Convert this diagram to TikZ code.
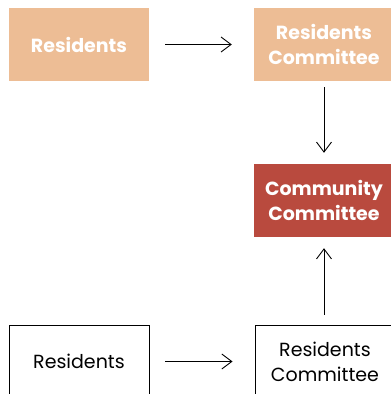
\documentclass[tikz,border=0pt]{standalone}
\usepackage{fontspec}
\setmainfont{Poppins}
\usepackage{tikz}
\usetikzlibrary{arrows.meta,positioning}

\definecolor{peach}{HTML}{EDBD95}
\definecolor{brick}{HTML}{B94A3E}

\begin{document}
\begin{tikzpicture}[
    x=1pt, y=-1pt,
    box/.style={rectangle, minimum width=140pt, minimum height=73pt, align=center, inner sep=0pt,
        font=\fontsize{19}{25}\selectfont},
    soft/.style={box, fill=peach, text=white, font=\fontsize{19}{25}\selectfont\bfseries},
    hot/.style={box, fill=brick, text=white, font=\fontsize{19}{25}\selectfont\bfseries},
    plain/.style={box, draw=black, line width=0.9pt},
    arr/.style={-{Straight Barb[length=10pt,width=15pt]}, line width=0.9pt}
]
    \useasboundingbox (0,0) rectangle (391,394);
    \clip (0,0) rectangle (391,394);

    % upper row
    \node[soft] (residentsA) at (79,44.5) {Residents};
    \node[soft] (committeeA) at (324,44.5) {Residents\\Committee};
    \node[hot] (community) at (324,200.5) {Community\\Committee};

    % lower row
    \node[plain] (residentsB) at (79,361.5) {Residents};
    \node[plain] (committeeB) at (325,361.5) {Residents\\Committee};

    \draw[arr, shorten <=16pt, shorten >=22pt] (residentsA) -- (committeeA);
    \draw[arr, shorten <=6pt, shorten >=11pt] (committeeA) -- (community);
    \draw[arr, shorten <=16pt, shorten >=22pt] (residentsB) -- (committeeB);
    \draw[arr, shorten <=10pt, shorten >=11pt] (committeeB.north -| community) -- (community);
\end{tikzpicture}
\end{document}
